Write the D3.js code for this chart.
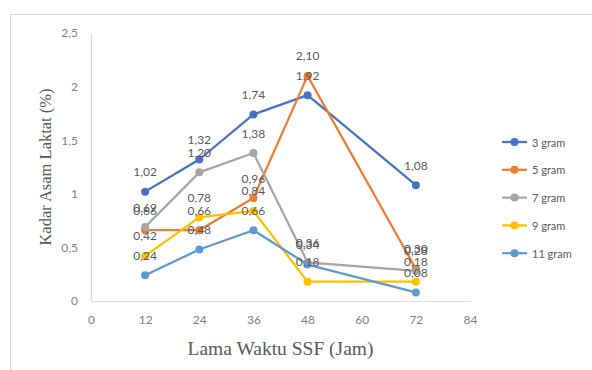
<!DOCTYPE html>
<html><head><meta charset="utf-8">
<script src="https://cdn.jsdelivr.net/npm/d3@7"></script>
<style>body{margin:0;background:#fff}svg{display:block}</style>
</head><body>
<svg id="c" width="592" height="370"></svg>
<script>
const hours = [12, 24, 36, 48, 72];
const seriesNames = ["3 gram", "5 gram", "7 gram", "9 gram", "11 gram"];
const gram3 = [1.02, 1.32, 1.74, 1.92, 1.08];
const gram5 = [0.66, 0.66, 0.96, 2.10, 0.30];
const gram7 = [0.69, 1.20, 1.38, 0.36, 0.28];
const gram9 = [0.42, 0.78, 0.84, 0.18, 0.18];
const gram11 = [0.24, 0.48, 0.66, 0.34, 0.08];
const colors = ["#4472C4", "#ED7D31", "#A5A5A5", "#FFC000", "#5B9BD5"];
const xTicks = [0, 12, 24, 36, 48, 60, 72, 84];
const yTicks = [0, 0.5, 1, 1.5, 2, 2.5];
const xTitle = "Lama Waktu SSF (Jam)";
const yTitle = "Kadar Asam Laktat (%)";

const allSeries = [gram3, gram5, gram7, gram9, gram11];
const svg = d3.select("#c");
const fmt = v => d3.format(".2f")(v).replace(".", ",");
const tickFmt = v => String(v).replace(".", ",");
const sans = "Lato, 'Open Sans', sans-serif";
const serif = "'Liberation Serif', 'DejaVu Serif', serif";

// chart border
svg.append("rect").attr("x", 10.5).attr("y", 14.5).attr("width", 620).attr("height", 420)
  .attr("fill", "none").attr("stroke", "#d9d9d9");

const x = d3.scaleLinear().domain([0, 84]).range([91, 470]);
const y = d3.scaleLinear().domain([0, 2.5]).range([301, 33]);

// axes
const xAxis = svg.append("g").attr("transform", "translate(0,301)")
  .call(d3.axisBottom(x).tickValues(xTicks).tickFormat(tickFmt).tickSize(0).tickPadding(14));
const yAxis = svg.append("g").attr("transform", "translate(91,0)")
  .call(d3.axisLeft(y).tickValues(yTicks).tickFormat(tickFmt).tickSize(0).tickPadding(13));
[xAxis, yAxis].forEach(a => {
  a.select(".domain").attr("stroke", "#d9d9d9").attr("stroke-width", 1.2);
  a.selectAll("text").attr("fill", "#7f7f7f").attr("font-family", sans).attr("font-size", 12);
});

// titles
svg.append("text").attr("x", x(42)).attr("y", 355).attr("text-anchor", "middle")
  .attr("font-family", serif).attr("font-size", 19.5).attr("fill", "#595959").text(xTitle);
svg.append("text").attr("transform", `translate(51,${y(1.25)}) rotate(-90)`).attr("text-anchor", "middle")
  .attr("font-family", serif).attr("font-size", 16.5).attr("fill", "#595959").text(yTitle);

const line = d3.line().x((d, i) => x(hours[i])).y(d => y(d));

allSeries.forEach((vals, s) => {
  svg.append("path").datum(vals).attr("d", line).attr("fill", "none")
    .attr("stroke", colors[s]).attr("stroke-width", 2.25).attr("stroke-linejoin", "round");
  svg.append("g").selectAll("circle").data(vals).join("circle")
    .attr("cx", (d, i) => x(hours[i])).attr("cy", d => y(d)).attr("r", 4)
    .attr("fill", colors[s]);
});

allSeries.forEach((vals, s) => {
  svg.append("g").selectAll("text").data(vals).join("text")
    .attr("x", (d, i) => x(hours[i])).attr("y", d => y(d) - 20)
    .attr("dominant-baseline", "central").attr("text-anchor", "middle")
    .attr("font-family", sans).attr("font-size", 12).attr("fill", "#595959")
    .text(fmt);
});

// legend
const lg = svg.append("g");
seriesNames.forEach((name, i) => {
  const ly = 142 + i * 27.8;
  lg.append("line").attr("x1", 502).attr("x2", 527).attr("y1", ly).attr("y2", ly)
    .attr("stroke", colors[i]).attr("stroke-width", 2.25);
  lg.append("circle").attr("cx", 514.5).attr("cy", ly).attr("r", 4).attr("fill", colors[i]);
  lg.append("text").attr("x", 532).attr("y", ly).attr("dominant-baseline", "central")
    .attr("font-family", sans).attr("font-size", 11).attr("fill", "#595959").text(name);
});
</script>
</body></html>
